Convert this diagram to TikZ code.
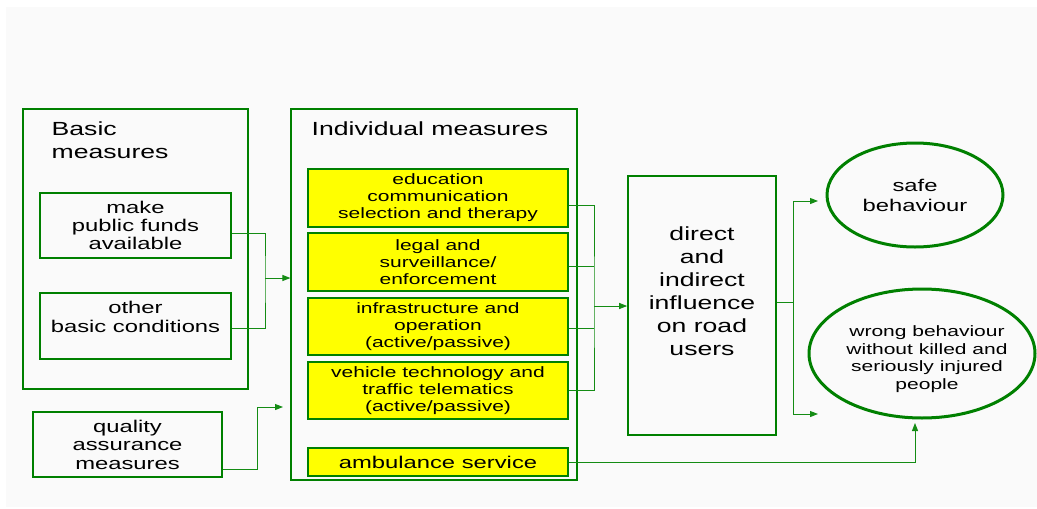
\documentclass[tikz,border=0pt]{standalone}
\usepackage{fontspec}
\setmainfont{Liberation Sans}[FakeStretch=1.4]
\usetikzlibrary{arrows.meta,shapes.geometric}

\definecolor{frame}{RGB}{0,128,0}
\definecolor{wire}{RGB}{20,140,20}
\definecolor{yellowbox}{RGB}{255,255,0}

\tikzset{every picture/.style={line width=0.75pt}}
\tikzset{
  outer/.style={draw=frame, line width=1.1pt, minimum width=#1, inner sep=0pt},
  inbox/.style={draw=frame, line width=1.6pt, align=center, inner sep=0pt},
  ybox/.style={draw=frame, line width=1.8pt, fill=yellowbox, inner sep=0pt, minimum width=260pt},
  result/.style={draw=frame, line width=3pt, ellipse, inner sep=0pt},
  conn/.style={draw=wire, line width=1pt},
  arr/.style={conn, -{Triangle[length=8pt,width=6pt]}},
}

\begin{document}
\begin{tikzpicture}[x=1pt,y=1pt,yscale=-1,xscale=1]
	\useasboundingbox (0,0) rectangle (1037,509);
	\fill [gray!4] (6,7) rectangle (1037,507);

	%Shape: Rectangle [basic measures]
	\node [outer=225pt, minimum height=280pt] (basic) at (135.5,249) {};
	%Shape: Rectangle [individual measures]
	\node [outer=286pt, minimum height=371pt] (indiv) at (434,294.5) {};

	% Text Node
	\node [anchor=north west, align=left, font=\fontsize{19}{23.5}\selectfont] (basicT) at (48,118) {Basic\\measures};
	% Text Node
	\node [anchor=north west, font=\fontsize{19}{23.5}\selectfont] (indivT) at (308,118) {Individual measures};

	%Shape: Rectangle
	\node [inbox, minimum width=191pt, minimum height=65pt, font=\fontsize{17}{18}\selectfont] (pub) at (135.5,225.5) {make\\public funds\\available};
	%Shape: Rectangle
	\node [inbox, minimum width=191pt, minimum height=66pt, font=\fontsize{17}{19}\selectfont] (oth) at (135.5,326) {};
	\node [align=center, font=\fontsize{17}{19}\selectfont] (othT) at (135.5,317) {other\\basic conditions};
	%Shape: Rectangle
	\node [inbox, minimum width=189pt, minimum height=65pt, font=\fontsize{17}{18.5}\selectfont] (qual) at (127.5,444.5) {quality\\assurance\\measures};

	%Shape: Rectangle [yellow]
	\node [ybox, minimum height=58pt, align=center, font=\fontsize{15}{17}\selectfont] (edu) at (438,198) {education\\communication\\selection and therapy};
	\node [ybox, minimum height=58pt, align=center, font=\fontsize{15}{17}\selectfont] (leg) at (438,262) {legal and\\surveillance/\\enforcement};
	\node [ybox, minimum height=57pt, align=center, font=\fontsize{15}{17}\selectfont] (inf) at (438,326.5) {infrastructure and\\operation\\(active/passive)};
	\node [ybox, minimum height=57pt, align=center, font=\fontsize{15}{17}\selectfont] (veh) at (438,390.5) {vehicle technology and\\traffic telematics\\(active/passive)};
	\node [ybox, minimum height=28pt, font=\fontsize{17}{19}\selectfont] (amb) at (438,462) {ambulance service};

	%Shape: Rectangle [influence]
	\node [draw=frame, line width=1.6pt, minimum width=148pt, minimum height=259pt] (dir) at (702,305.5) {};
	\node [align=center, font=\fontsize{19}{23}\selectfont] (dirT) at (702,291) {direct\\and\\indirect\\influence\\on road\\users};

	%Shape: Ellipse
	\node [result, minimum width=176pt, minimum height=104pt] (safe) at (915,195) {};
	\node [align=center, font=\fontsize{17}{20}\selectfont] (safeT) at (915,195) {safe\\behaviour};
	\node [result, minimum width=226pt, minimum height=129pt] (wrong) at (922,353.5) {};
	\node [align=center, font=\fontsize{15}{17.7}\selectfont] (wrongT) at (927,359) {wrong behaviour\\without killed and\\seriously injured\\people};

	% junctions
	\coordinate (jL) at (265,278);
	\coordinate (jQ) at (257,407);
	\coordinate (jM) at (594,306);
	\coordinate (jR) at (793,302);

	%Straight Lines [left]
	\draw [conn] (pub.east |- 0,233) -| (jL) |- (oth.east |- 0,328);
	\draw [arr] (jL) -- (indiv.west |- jL);
	\draw [arr] (qual.east |- 0,469) -| (jQ) -- (283,407);

	%Straight Lines [middle]
	\draw [conn] (edu.east |- 0,205) -| (jM) |- (veh.east);
	\draw [conn] (leg.east |- 0,266) -- (jM |- 0,266);
	\draw [conn] (inf.east |- 0,328) -- (jM |- 0,328);
	\draw [arr] (jM) -- (dir.west |- jM);

	%Straight Lines [right]
	\draw [conn] (dir.east |- jR) -- (jR);
	\draw [arr] (jR) |- (818,201);
	\draw [arr] (jR) |- (818,414);
	\draw [arr] (amb.east) -| (915,423);

\end{tikzpicture}
\end{document}
